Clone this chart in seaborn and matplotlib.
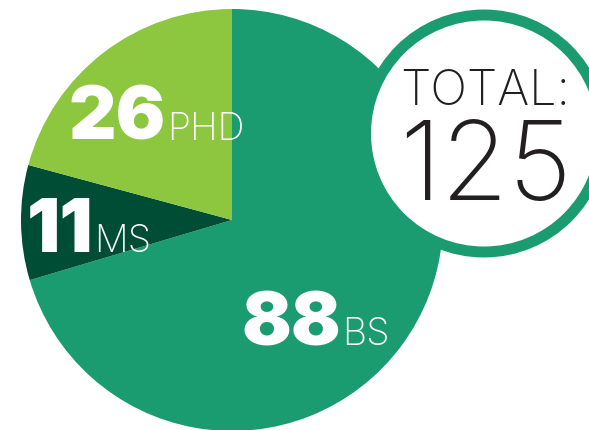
import matplotlib
matplotlib.use("Agg")
import matplotlib.pyplot as plt
import seaborn as sns
from matplotlib.patches import Circle

# %%
degrees = ["BS", "MS", "PHD"]
counts = [88, 11, 26]
total = sum(counts)
colors = ["#1a9b70", "#004d36", "#8dc63f"]

# %%
sns.set_theme(style="white")
plt.rcParams["font.family"] = ["Inter", "DejaVu Sans"]

fig = plt.figure(figsize=(5.89, 4.30), dpi=100)
ax = fig.add_axes([0, 0, 1, 1])

ax.pie(counts, colors=colors, startangle=90, counterclock=False,
       center=(232, 210), radius=211, frame=True,
       wedgeprops=dict(linewidth=0))
ax.set_xlim(0, 589)
ax.set_ylim(0, 430)
ax.set_aspect("equal")
ax.axis("off")

# label positions (number right edge, baseline)
label_pos = {"BS": (341, 85), "MS": (93, 178), "PHD": (166, 290)}
for deg, n in zip(degrees, counts):
    x, y = label_pos[deg]
    ax.text(x, y, str(n), color="white", fontsize=53, fontweight="black",
            ha="right", va="baseline")
    ax.text(x + 1, y, deg, color="white", fontsize=27, fontweight="light",
            ha="left", va="baseline")

# total badge
ax.add_patch(Circle((484, 296.5), 118.5, facecolor="white",
                    edgecolor=colors[0], linewidth=7.9, zorder=5))
ax.text(485, 325, "TOTAL:", color="#231f20", fontsize=35, fontweight="light",
        ha="center", va="baseline", zorder=6)
ax.text(485, 230, str(total), color="#231f20", fontsize=79, fontweight="light",
        ha="center", va="baseline", zorder=6)

fig.savefig("out.png", dpi=100)
